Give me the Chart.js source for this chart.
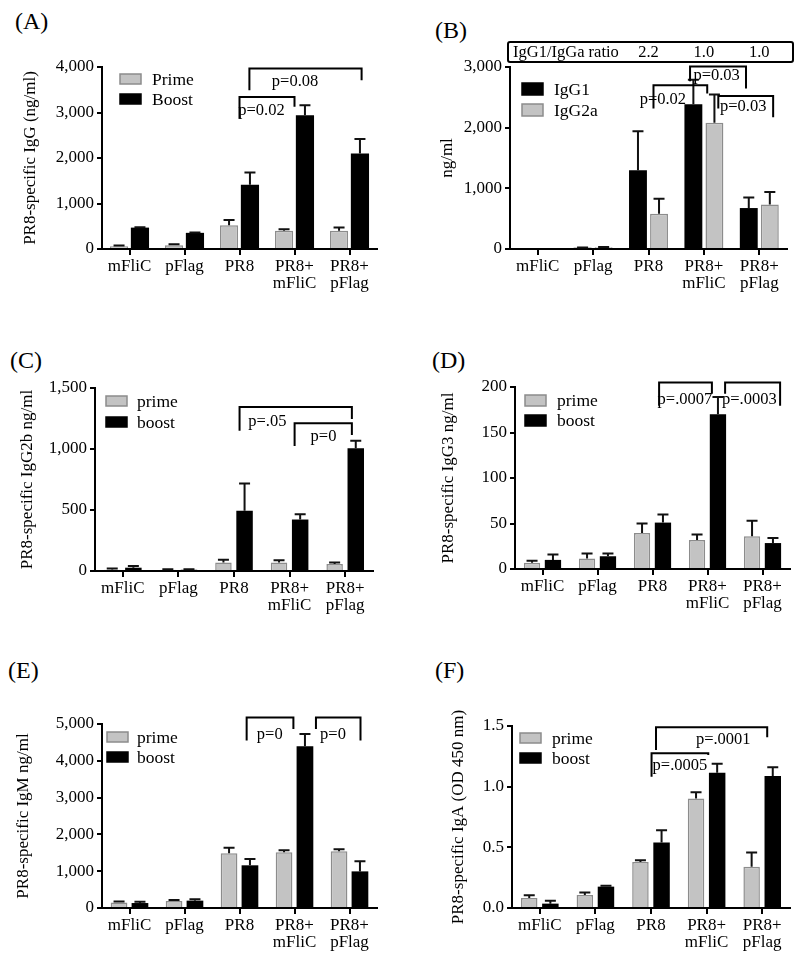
<!DOCTYPE html>
<html>
<head>
<meta charset="utf-8">
<script src="https://cdn.jsdelivr.net/npm/chart.js@4.4.1/dist/chart.umd.min.js"></script>
<style>
  body { margin: 0; background: #fff; width: 800px; height: 975px; position: relative; overflow: hidden;
         font-family: "Liberation Serif", "Times New Roman", serif; }
  canvas { position: absolute; }
  .tag { position: absolute; font-size: 24px; line-height: 24px; color: #000; }
</style>
</head>
<body>
<div class="tag" style="left:15px;top:9px">(A)</div>
<div class="tag" style="left:435px;top:18px">(B)</div>
<div class="tag" style="left:10px;top:348px">(C)</div>
<div class="tag" style="left:432px;top:348px">(D)</div>
<div class="tag" style="left:8px;top:658px">(E)</div>
<div class="tag" style="left:435px;top:658px">(F)</div>

<canvas id="cA" width="400" height="320" style="left:0;top:0;width:400px;height:320px"></canvas>
<canvas id="cB" width="400" height="320" style="left:400px;top:0;width:400px;height:320px"></canvas>
<canvas id="cC" width="400" height="320" style="left:0;top:320px;width:400px;height:320px"></canvas>
<canvas id="cD" width="400" height="320" style="left:400px;top:320px;width:400px;height:320px"></canvas>
<canvas id="cE" width="400" height="335" style="left:0;top:640px;width:400px;height:335px"></canvas>
<canvas id="cF" width="400" height="335" style="left:400px;top:640px;width:400px;height:335px"></canvas>

<script>
const groups = ["mFliC", "pFlag", "PR8", ["PR8+", "mFliC"], ["PR8+", "pFlag"]];

// (A) total IgG, ng/ml
const igGPrime = [60, 80, 520, 400, 400];
const igGPrimeErr = [15, 25, 115, 35, 75];
const igGBoost = [470, 355, 1410, 2940, 2100];
const igGBoostErr = [10, 8, 270, 220, 320];
const igGTicks = [0, 1000, 2000, 3000, 4000];
const igGBrackets = [
  { from: 2.0, to: 3.0, top: 3340, left: 2870, right: 3125, label: "p=0.02", tx: 2.4, ty: 3030 },
  { from: 2.18, to: 4.22, top: 3965, left: 3490, right: 3710, label: "p=0.08", tx: 3.01, ty: 3670 }
];

// (B) IgG1 vs IgG2a, ng/ml
const igG1 = [0, 20, 1300, 2385, 675];
const igG1Err = [0, 5, 640, 405, 175];
const igG2a = [0, 30, 580, 2080, 735];
const igG2aErr = [0, 5, 250, 465, 205];
const subclassTicks = [0, 1000, 2000, 3000];
const ratioTitle = "IgG1/IgGa ratio";
const ratioLabels = ["", "", "2.2", "1.0", "1.0"];
const subclassBrackets = [
  { from: 2.75, to: 3.76, top: 3010, left: 2765, right: 2645, label: "p=0.03", tx: 3.23, ty: 2865 },
  { from: 2.09, to: 3.06, top: 2700, left: 2315, right: 2565, label: "p=0.02", tx: 2.26, ty: 2465 },
  { from: 3.26, to: 4.25, top: 2520, left: 2315, right: 2170, label: "p=0.03", tx: 3.71, ty: 2345 }
];

// (C) IgG2b, ng/ml
const igG2bPrime = [11, 10, 69, 69, 58];
const igG2bPrimeErr = [10, 5, 24, 19, 11];
const igG2bBoost = [27, 10, 494, 422, 1006];
const igG2bBoostErr = [14, 5, 224, 44, 61];
const igG2bTicks = [0, 500, 1000, 1500];
const igG2bBrackets = [
  { from: 2.1, to: 4.12, top: 1345, left: 1150, right: 1245, label: "p=.05", tx: 2.6, ty: 1225 },
  { from: 3.09, to: 4.12, top: 1212, left: 1025, right: 1115, label: "p=0", tx: 3.61, ty: 1097 }
];

// (D) IgG3, ng/ml
const igG3Prime = [7, 11.5, 39.5, 32, 36];
const igG3PrimeErr = [2, 5.5, 10.5, 6, 17];
const igG3Boost = [10, 14, 51, 170, 28.5];
const igG3BoostErr = [6, 3, 9, 19, 5.5];
const igG3Ticks = [0, 50, 100, 150, 200];
const igG3Brackets = [
  { from: 2.12, to: 3.08, top: 205, left: 179.5, right: 192.5, label: "p=.0007", tx: 2.59, ty: 186 },
  { from: 3.32, to: 4.32, top: 205, left: 192.5, right: 179.5, label: "p=.0003", tx: 3.76, ty: 186 }
];

// (E) IgM, ng/ml
const igMPrime = [150, 190, 1485, 1515, 1540];
const igMPrimeErr = [30, 27, 155, 55, 55];
const igMBoost = [135, 200, 1160, 4395, 995];
const igMBoostErr = [37, 35, 172, 335, 272];
const igMTicks = [0, 1000, 2000, 3000, 4000, 5000];
const igMBrackets = [
  { from: 2.13, to: 2.98, top: 5180, left: 4555, right: 4865, label: "p=0", tx: 2.55, ty: 4710 },
  { from: 3.39, to: 4.2, top: 5180, left: 4865, right: 4555, label: "p=0", tx: 3.7, ty: 4710 }
];

// (F) IgA, OD 450 nm
const igAPrime = [0.083, 0.107, 0.38, 0.903, 0.339];
const igAPrimeErr = [0.022, 0.02, 0.014, 0.052, 0.118];
const igABoost = [0.036, 0.176, 0.54, 1.115, 1.087];
const igABoostErr = [0.024, 0.008, 0.101, 0.074, 0.072];
const igATicks = [0, 0.5, 1.0, 1.5];
const igABrackets = [
  { from: 2.09, to: 4.09, top: 1.489, left: 1.302, right: 1.407, label: "p=.0001", tx: 3.3, ty: 1.384 },
  { from: 2.01, to: 3.03, top: 1.275, left: 1.082, right: 1.26, label: "p=.0005", tx: 2.52, ty: 1.17 }
];

const FONT = '"Liberation Serif", "Times New Roman", serif';
const GRAY = "#c3c3c3";
const GRAY_EDGE = "#8c8c8c";

// category position (fractional index) -> pixel, through the x scale
function catX(xs, c) {
  const p0 = xs.getPixelForValue(0);
  return p0 + c * (xs.getPixelForValue(1) - p0);
}

const extras = {
  id: "extras",
  afterDatasetsDraw(chart, args, opts) {
    const ctx = chart.ctx;
    const xs = chart.scales.x, ys = chart.scales.y;
    const area = chart.chartArea;
    ctx.save();

    // error bars (upper only)
    chart.data.datasets.forEach((ds, di) => {
      chart.getDatasetMeta(di).data.forEach((bar, i) => {
        if (!ds.err || !ds.err[i]) return;
        const yTop = ys.getPixelForValue(ds.data[i] + ds.err[i]);
        ctx.strokeStyle = "#111";
        ctx.lineWidth = 2;
        ctx.beginPath();
        ctx.moveTo(bar.x, bar.y);
        ctx.lineTo(bar.x, yTop);
        ctx.moveTo(bar.x - 5.5, yTop);
        ctx.lineTo(bar.x + 5.5, yTop);
        ctx.stroke();
      });
    });

    // significance brackets
    ctx.lineWidth = 2;
    ctx.strokeStyle = "#000";
    ctx.fillStyle = "#000";
    ctx.font = "16.5px " + FONT;
    ctx.textAlign = "center";
    ctx.textBaseline = "middle";
    (opts.brackets || []).forEach(b => {
      const x1 = catX(xs, b.from), x2 = catX(xs, b.to);
      const yt = ys.getPixelForValue(b.top);
      ctx.beginPath();
      ctx.moveTo(x1, ys.getPixelForValue(b.left));
      ctx.lineTo(x1, yt);
      ctx.lineTo(x2, yt);
      ctx.lineTo(x2, ys.getPixelForValue(b.right));
      ctx.stroke();
      ctx.fillText(b.label, catX(xs, b.tx), ys.getPixelForValue(b.ty));
    });

    // legend inside the plot
    const lg = opts.legend;
    ctx.font = "17.5px " + FONT;
    ctx.textAlign = "left";
    chart.data.datasets.forEach((ds, di) => {
      const bx = area.left + lg.x, by = area.top + lg.y + di * lg.gap;
      ctx.fillStyle = ds.backgroundColor;
      ctx.fillRect(bx, by, 21, lg.h);
      ctx.strokeStyle = ds.borderColor;
      ctx.lineWidth = 1.5;
      ctx.strokeRect(bx, by, 21, lg.h);
      ctx.fillStyle = "#000";
      ctx.fillText(ds.label, area.left + lg.tx, by + lg.h / 2 + 1);
    });

    // ratio box (panel B)
    if (opts.ratio) {
      const r = opts.ratio;
      const top = area.top - 25, h = 20;
      ctx.strokeStyle = "#000";
      ctx.lineWidth = 2;
      ctx.beginPath();
      ctx.roundRect(area.left - 2, top, area.right - area.left + 8, h, 2);
      ctx.stroke();
      ctx.font = "16.5px " + FONT;
      ctx.fillStyle = "#000";
      ctx.textAlign = "left";
      ctx.fillText(r.title, area.left + 3, top + h / 2 + 1);
      ctx.textAlign = "center";
      r.labels.forEach((t, i) => { if (t) ctx.fillText(t, catX(xs, i), top + h / 2 + 1); });
    }
    ctx.restore();
  }
};

function series(label, data, err, dark, bp) {
  return {
    label, data, err,
    backgroundColor: dark ? "#000" : GRAY,
    borderColor: dark ? "#000" : GRAY_EDGE,
    borderWidth: dark ? 0 : 1.5,
    categoryPercentage: 0.76,
    barPercentage: bp
  };
}

function makePanel(id, cfg) {
  const L = cfg.layout;
  return new Chart(document.getElementById(id), {
    type: "bar",
    data: { labels: groups, datasets: cfg.datasets },
    plugins: [extras],
    options: {
      responsive: false,
      animation: false,
      layout: { padding: { left: 0, top: L.top, right: L.right, bottom: 0 } },
      plugins: {
        legend: { display: false },
        tooltip: { enabled: false },
        extras: { brackets: cfg.brackets, legend: L.legend, ratio: cfg.ratio }
      },
      scales: {
        x: {
          grid: { offset: false, drawOnChartArea: false, drawTicks: true, tickLength: 6, lineWidth: 2, color: "#000" },
          border: { color: "#000", width: 2 },
          ticks: { color: "#000", font: { family: FONT, size: 17, lineHeight: 1.0 }, padding: 3, maxRotation: 0, autoSkip: false },
          afterFit: s => { s.height = L.xh; }
        },
        y: {
          min: cfg.ticks[0],
          max: cfg.ticks[cfg.ticks.length - 1],
          afterBuildTicks: s => { s.ticks = cfg.ticks.map(v => ({ value: v })); },
          grid: { drawOnChartArea: false, drawTicks: true, tickLength: 5, lineWidth: 2, color: "#000" },
          border: { color: "#000", width: 2 },
          ticks: { color: "#000", font: { family: FONT, size: 17 }, padding: 3, callback: cfg.fmt },
          title: { display: true, text: cfg.title, color: "#000", font: { family: FONT, size: 17 }, padding: { top: L.tp, bottom: 0 } },
          afterFit: s => { s.width = L.yw; }
        }
      }
    }
  });
}

const comma = v => v.toLocaleString("en-US");

makePanel("cA", {
  datasets: [series("Prime", igGPrime, igGPrimeErr, false, 0.87), series("Boost", igGBoost, igGBoostErr, true, 0.87)],
  ticks: igGTicks, fmt: comma, title: "PR8-specific IgG (ng/ml)", brackets: igGBrackets,
  layout: { top: 67, right: 23, xh: 71, yw: 102, tp: 20, legend: { x: 18, y: 7, gap: 20, h: 10, tx: 50 } }
});
makePanel("cB", {
  datasets: [series("IgG1", igG1, igG1Err, true, 0.85), series("IgG2a", igG2a, igG2aErr, false, 0.85)],
  ticks: subclassTicks, fmt: comma, title: "ng/ml", brackets: subclassBrackets,
  ratio: { title: ratioTitle, labels: ratioLabels },
  layout: { top: 67, right: 13, xh: 71, yw: 110, tp: 37, legend: { x: 12, y: 16, gap: 21, h: 12, tx: 44 } }
});
makePanel("cC", {
  datasets: [series("prime", igG2bPrime, igG2bPrimeErr, false, 0.78), series("boost", igG2bBoost, igG2bBoostErr, true, 0.78)],
  ticks: igG2bTicks, fmt: comma, title: "PR8-specific IgG2b ng/ml", brackets: igG2bBrackets,
  layout: { top: 68, right: 27, xh: 69, yw: 95, tp: 17, legend: { x: 11, y: 8, gap: 21, h: 10, tx: 42 } }
});
makePanel("cD", {
  datasets: [series("prime", igG3Prime, igG3PrimeErr, false, 0.78), series("boost", igG3Boost, igG3BoostErr, true, 0.78)],
  ticks: igG3Ticks, fmt: v => String(v), title: "PR8-specific IgG3 ng/ml", brackets: igG3Brackets,
  layout: { top: 67, right: 10, xh: 71, yw: 115, tp: 38, legend: { x: 10, y: 8, gap: 20, h: 11, tx: 42 } }
});
makePanel("cE", {
  datasets: [series("prime", igMPrime, igMPrimeErr, false, 0.8), series("boost", igMBoost, igMBoostErr, true, 0.8)],
  ticks: igMTicks, fmt: comma, title: "PR8-specific IgM ng/ml", brackets: igMBrackets,
  layout: { top: 84, right: 23, xh: 67, yw: 102, tp: 13, legend: { x: 5, y: 8, gap: 20, h: 10, tx: 35 } }
});
makePanel("cF", {
  datasets: [series("prime", igAPrime, igAPrimeErr, false, 0.78), series("boost", igABoost, igABoostErr, true, 0.78)],
  ticks: igATicks, fmt: v => v.toFixed(1), title: "PR8-specific IgA (OD 450 nm)", brackets: igABrackets,
  layout: { top: 86, right: 10, xh: 67, yw: 112, tp: 48, legend: { x: 8, y: 7, gap: 20, h: 10, tx: 40 } }
});
</script>
</body>
</html>
